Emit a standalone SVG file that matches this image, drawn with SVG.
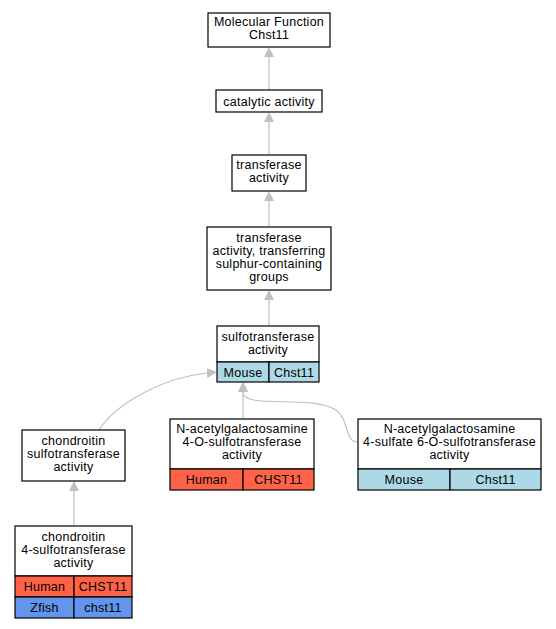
<svg xmlns="http://www.w3.org/2000/svg" width="556" height="629" viewBox="0 0 556 629">
<style>
.box{fill:#fff;stroke:#000;stroke-width:1.2}
.m{fill:#add8e6;stroke:#000;stroke-width:1.2}
.h{fill:#ff6347;stroke:#000;stroke-width:1.2}
.z{fill:#6495ed;stroke:#000;stroke-width:1.2}
text{font-family:"Liberation Sans",Arial,sans-serif;font-size:12.5px;letter-spacing:0.25px;text-anchor:middle;fill:#000}
.e{fill:none;stroke:#c0c0c0;stroke-width:1.2;marker-end:url(#a)}
</style>
<defs>
<marker id="a" markerUnits="userSpaceOnUse" markerWidth="10" markerHeight="10" refX="0" refY="5" orient="auto">
<path d="M0,0 L10,5 L0,10 z" fill="#c0c0c0"/>
</marker>
</defs>
<rect width="556" height="629" fill="#fff"/>
<g id="edges">
<path class="e" d="M269,90 L269,57"/>
<path class="e" d="M269,155 L269,122"/>
<path class="e" d="M269,227 L269,201"/>
<path class="e" d="M269,326 L269,300"/>
<path class="e" d="M243,419 L243,392"/>
<path class="e" d="M74,526 L74,491"/>
<path class="e" d="M99,430 C115,405 160,378 207,373"/>
<path class="e" d="M358,442 C344,442 350,420 336,410 C312,394 243,410 243,392"/>
</g>
<g id="n1">
<rect class="box" x="208" y="13" width="122" height="34"/>
<text x="269" y="26">Molecular Function</text>
<text x="269" y="39">Chst11</text>
</g>
<g id="n2">
<rect class="box" x="216" y="90" width="106" height="22"/>
<text x="269" y="105.5">catalytic activity</text>
</g>
<g id="n3">
<rect class="box" x="232" y="155" width="74" height="36"/>
<text x="269" y="169">transferase</text>
<text x="269" y="182">activity</text>
</g>
<g id="n4">
<rect class="box" x="207" y="227" width="124" height="63"/>
<text x="269" y="242">transferase</text>
<text x="269" y="255">activity, transferring</text>
<text x="269" y="268">sulphur-containing</text>
<text x="269" y="281">groups</text>
</g>
<g id="n5">
<rect class="box" x="217" y="326" width="102" height="36"/>
<text x="268" y="341">sulfotransferase</text>
<text x="268" y="354">activity</text>
<rect class="m" x="217" y="362" width="52" height="20"/>
<rect class="m" x="269" y="362" width="50" height="20"/>
<text x="243" y="376.5">Mouse</text>
<text x="294" y="376.5">Chst11</text>
</g>
<g id="n6">
<rect class="box" x="22" y="430" width="103" height="51"/>
<text x="73.5" y="445">chondroitin</text>
<text x="73.5" y="458">sulfotransferase</text>
<text x="73.5" y="471">activity</text>
</g>
<g id="n7">
<rect class="box" x="170" y="419" width="144" height="50"/>
<text x="242" y="433">N-acetylgalactosamine</text>
<text x="242" y="446">4-O-sulfotransferase</text>
<text x="242" y="459">activity</text>
<rect class="h" x="170" y="469" width="73" height="21"/>
<rect class="h" x="243" y="469" width="71" height="21"/>
<text x="206.5" y="484">Human</text>
<text x="278.5" y="484">CHST11</text>
</g>
<g id="n8">
<rect class="box" x="358" y="419" width="183" height="50"/>
<text x="449.5" y="433">N-acetylgalactosamine</text>
<text x="449.5" y="446">4-sulfate 6-O-sulfotransferase</text>
<text x="449.5" y="459">activity</text>
<rect class="m" x="358" y="469" width="92" height="21"/>
<rect class="m" x="450" y="469" width="91" height="21"/>
<text x="404" y="484">Mouse</text>
<text x="495.5" y="484">Chst11</text>
</g>
<g id="n9">
<rect class="box" x="15" y="526" width="117" height="50"/>
<text x="73.5" y="541">chondroitin</text>
<text x="73.5" y="554">4-sulfotransferase</text>
<text x="73.5" y="567">activity</text>
<rect class="h" x="15" y="576" width="59" height="21"/>
<rect class="h" x="74" y="576" width="58" height="21"/>
<text x="44.5" y="591">Human</text>
<text x="103" y="591">CHST11</text>
<rect class="z" x="15" y="597" width="59" height="21"/>
<rect class="z" x="74" y="597" width="58" height="21"/>
<text x="44.5" y="612">Zfish</text>
<text x="103" y="612">chst11</text>
</g>
</svg>
